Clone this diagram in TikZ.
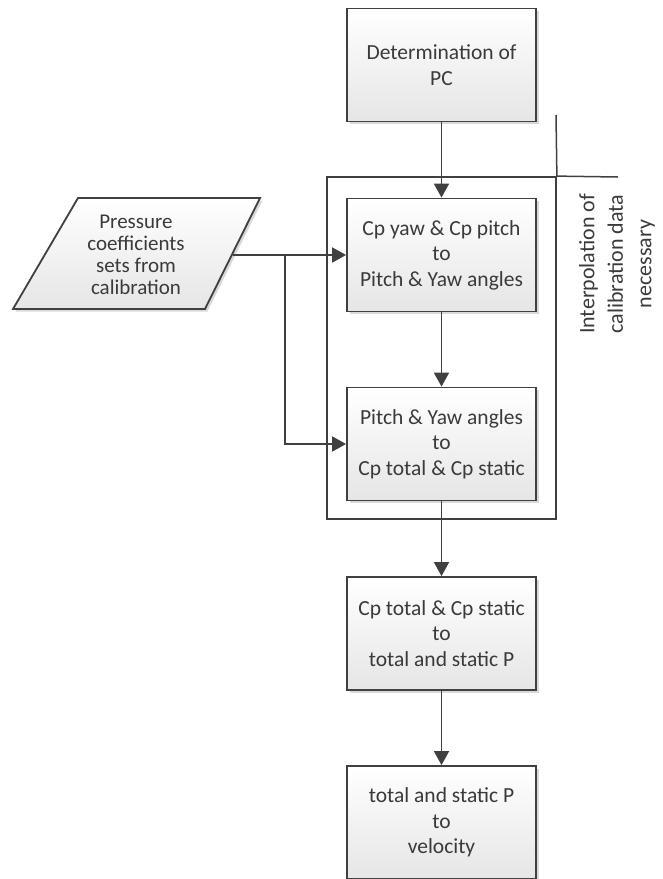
\documentclass[tikz,border=0pt]{standalone}
\usepackage{fontspec}
\setmainfont{Carlito}
\usetikzlibrary{arrows.meta,shadows,calc}
\definecolor{ln}{HTML}{404040}
\definecolor{tx}{HTML}{3A3A3A}
\tikzset{
  procbox/.style={draw=ln, line width=1.8pt, minimum width=189pt, minimum height=113pt,
    top color=white, bottom color=black!10, align=center, text=tx,
    font=\fontsize{21.5}{25.5}\selectfont,
    drop shadow={shadow xshift=2.5pt, shadow yshift=-2.5pt, opacity=0.25, fill=black!60}},
  conn/.style={draw=ln, line width=1.8pt},
  arr/.style={conn, -{Triangle[length=14pt,width=15pt]}},
}
\begin{document}
\begin{tikzpicture}[x=1pt,y=-1pt]
\useasboundingbox (0,0) rectangle (662,879);
% boxes
\node[procbox] (b1) at (441.5,65) {Determination of\\PC};
\node[procbox] (b2) at (441.5,255) {Cp yaw \& Cp pitch\\to\\Pitch \& Yaw angles};
\node[procbox] (b3) at (441.5,444) {Pitch \& Yaw angles\\to\\Cp total \& Cp static};
\node[procbox] (b4) at (441.5,633.5) {Cp total \& Cp static\\to\\total and static P};
\node[procbox] (b5) at (441.5,822.5) {total and static P\\to\\velocity};
% group container
\node[draw=ln, line width=1.8pt, minimum width=229pt, minimum height=342pt, inner sep=0pt] (grp) at (441.5,348) {};
\coordinate (gtop) at (556,115);
\coordinate (gright) at (618,177);
\draw[conn, line width=1.5pt] (grp.north east) -- (gtop);
\draw[conn, line width=1.5pt] (grp.north east) -- (gright);
\node[rotate=90, align=center, text=tx, font=\fontsize{22}{28.5}\selectfont] (glabel) at (617,264) {Interpolation of\\calibration data\\necessary};
% parallelogram input
\fill[black!60, opacity=0.25] (80.5,200.5) -- (262.5,200.5) -- (207.5,311.5) -- (15.5,311.5) -- cycle;
\shade[top color=white, bottom color=black!10, draw=ln, line width=1.8pt] (78,198) -- (260,198) -- (205,309) -- (13,309) -- cycle;
\node[align=center, text=tx, font=\fontsize{21}{22}\selectfont] (pin) at (136,255) {Pressure\\coefficients\\sets from\\calibration};
\coordinate (pinr) at (233,255);
\coordinate (split) at (285,255);
% connectors
\draw[arr] (b1.south) -- (b2.north);
\draw[arr] (b2.south) -- (b3.north);
\draw[arr] (b3.south) -- (b4.north);
\draw[arr] (b4.south) -- (b5.north);
\draw[arr] (pinr) -- (b2.west);
\draw[arr] (split) |- (b3.west);
\end{tikzpicture}
\end{document}
